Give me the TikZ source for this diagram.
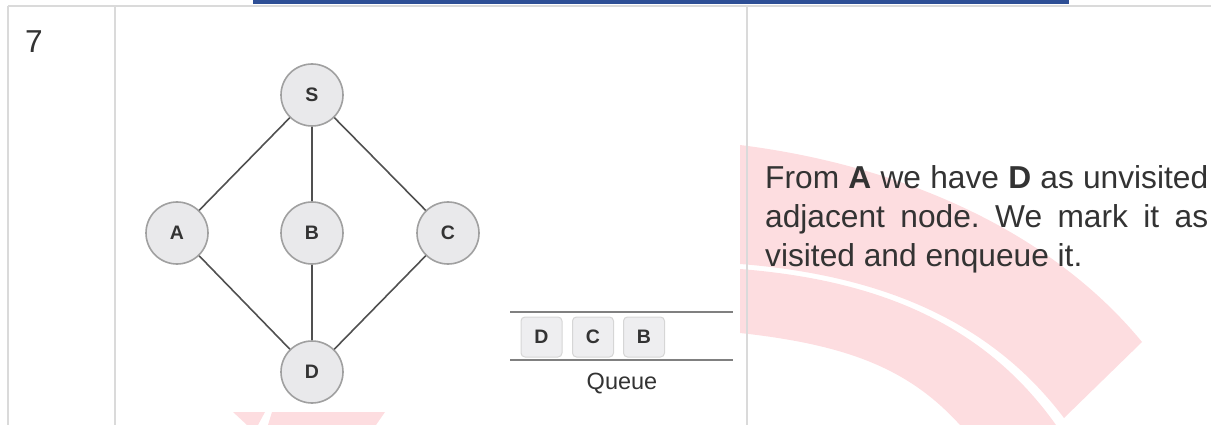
\documentclass[tikz,border=0pt]{standalone}
\usepackage{fontspec}
\setmainfont{Liberation Sans}
\definecolor{gridgray}{HTML}{DADADA}
\definecolor{barblue}{HTML}{2E4F96}
\definecolor{txt}{HTML}{333333}
\definecolor{wmpink}{HTML}{FDDDE0}
\definecolor{nodefill}{HTML}{E9E9EB}
\definecolor{nodeline}{HTML}{A0A0A0}
\definecolor{edgecol}{HTML}{505050}
\definecolor{qfill}{HTML}{EEEEF0}
\definecolor{qline}{HTML}{D6D6D6}
\definecolor{qrule}{HTML}{808080}
\tikzset{
  gnode/.style={circle, minimum size=62pt, inner sep=0pt, fill=nodefill, draw=nodeline, line width=1.6pt, text=txt, font=\fontsize{19.5}{20}\selectfont\bfseries},
  gedge/.style={draw=edgecol, line width=1.6pt},
  qbox/.style={rectangle, rounded corners=4pt, minimum width=41pt, minimum height=40pt, inner sep=0pt, fill=qfill, draw=qline, line width=1pt, text=txt, font=\fontsize{19.5}{20}\selectfont\bfseries},
  gridline/.style={draw=gridgray, line width=2pt},
  qrulestyle/.style={draw=qrule, line width=2pt}
}
\begin{document}
\frenchspacing
\begin{tikzpicture}[x=1pt,y=-1pt]
\useasboundingbox (0,0) rectangle (1211,425);
% watermark
\fill[wmpink] (740,145) .. controls (900,165) and (1050,230) .. (1142,342) -- (1064,418) .. controls (990,320) and (880,275) .. (740,264) -- cycle;
\fill[wmpink] (740,269) .. controls (880,280) and (985,325) .. (1056,425) -- (960,425) .. controls (910,370) and (850,345) .. (740,333) -- cycle;
\fill[wmpink] (233,412) -- (265,412) -- (258,425) -- (247,425) -- cycle;
\fill[wmpink] (272,412) -- (385,412) -- (376,425) -- (268,425) -- cycle;
% table
\fill[barblue] (253,0) rectangle (1069,4.5);
\draw[gridline] (8,6) -- (1211,6);
\draw[gridline] (8,6) -- (8,425);
\draw[gridline] (115,6) -- (115,425);
\draw[gridline] (747,6) -- (747,425);
\node[anchor=base west, inner sep=0pt, text=txt, font=\fontsize{31.7}{39}\selectfont] (num) at (25,53) {7};
% graph
\node[gnode] (S) at (312,95) {S};
\node[gnode] (A) at (177,233) {A};
\node[gnode] (B) at (312,233) {B};
\node[gnode] (C) at (448,233) {C};
\node[gnode] (D) at (312,372) {D};
\draw[gedge] (S) -- (A);
\draw[gedge] (S) -- (B);
\draw[gedge] (S) -- (C);
\draw[gedge] (A) -- (D);
\draw[gedge] (B) -- (D);
\draw[gedge] (C) -- (D);
% queue
\coordinate (qt1) at (510,312);
\coordinate (qt2) at (733,312);
\coordinate (qb1) at (510,360);
\coordinate (qb2) at (733,360);
\draw[qrulestyle] (qt1) -- (qt2);
\draw[qrulestyle] (qb1) -- (qb2);
\node[qbox] (qD) at (541.5,337) {D};
\node[qbox] (qC) at (593,337) {C};
\node[qbox] (qB) at (644,337) {B};
\node[anchor=base, inner sep=0pt, text=txt, font=\fontsize{23.5}{24}\selectfont] (qlabel) at (622,389) {Queue};
% description
\node[anchor=base west, inner sep=0pt, text width=443pt, align=justify, text=txt, font=\fontsize{31.7}{39}\selectfont] (desc) at (765,189)
 {From \textbf{A} we have \textbf{D} as unvisited\linebreak adjacent node. We mark it as\linebreak visited and enqueue it.};
\end{tikzpicture}
\end{document}
